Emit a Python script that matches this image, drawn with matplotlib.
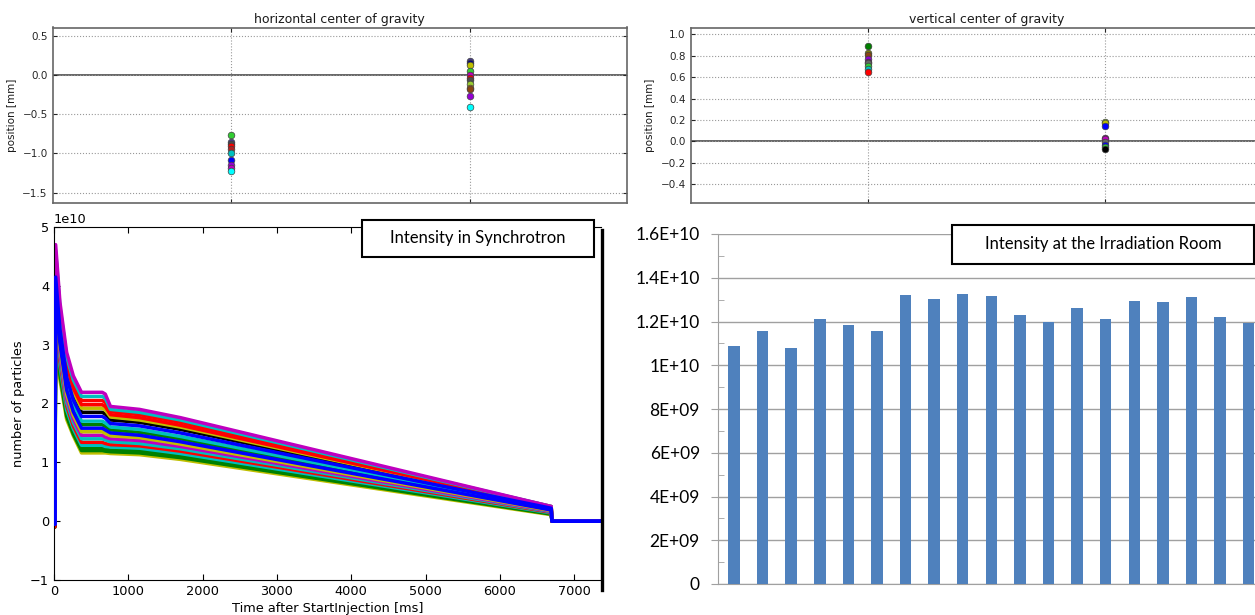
import numpy as np
import matplotlib.pyplot as plt
from matplotlib.patches import Rectangle
from matplotlib.lines import Line2D

W, H = 1255, 615

# ---- top panels: centre of gravity at two monitor positions ----
monitor_pos = [1, 2]

h_pos1 = [-0.76, -0.85, -0.88, -0.91, -0.94, -0.99, -1.09, -1.15, -1.18, -1.22]
h_col1 = ['limegreen', 'darkslateblue', '0.3', 'red', 'firebrick', 'c', 'b', 'darkviolet', 'm', 'cyan']
h_pos2 = [0.18, 0.16, 0.13, 0.06, 0.0, -0.03, -0.06, -0.11, -0.16, -0.18, -0.26, -0.41]
h_col2 = ['darkslateblue', 'navy', 'y', 'limegreen', 'm', 'red', '0.3', 'yellowgreen', 'darkorange',
          'saddlebrown', 'darkviolet', 'cyan']

v_pos1 = [0.89, 0.83, 0.81, 0.77, 0.745, 0.73, 0.70, 0.68, 0.65]
v_col1 = ['g', 'olive', 'saddlebrown', 'darkviolet', 'purple', '0.4', 'limegreen', 'c', 'red']
v_pos2 = [0.18, 0.17, 0.14, 0.035, 0.02, -0.01, -0.03, -0.05, -0.07]
v_col2 = ['yellowgreen', 'y', 'b', 'purple', 'm', '0.4', 'b', 'limegreen', 'k']

# ---- bottom left: intensity in synchrotron (units of 1e10) ----
t_knots = [0, 12, 22, 80, 170, 260, 370, 650, 690, 760, 1150, 1700, 6690, 6700, 7360]
run_colors = ['m', 'c', 'r', 'r', 'y', 'k', 'b', 'c', 'g', 'b', 'y', 'm', 'c', 'r', 'c', 'g', 'g', 'y']
i_start = [-0.05, -0.05, -0.1, -0.05, -0.05, -0.08, -0.05, -0.05, -0.1,
           -0.05, -0.05, -0.05, -0.08, -0.05, -0.05, -0.1, -0.05, -0.08]
i_peak = [4.70, 4.60, 4.55, 4.45, 4.40, 4.30, 4.15, 4.05, 3.95, 3.85, 3.75, 3.65, 3.55, 3.45, 3.35, 3.25, 3.10, 3.00]
i_80 = [3.72, 3.64, 3.57, 3.49, 3.42, 3.34, 3.26, 3.18, 3.10, 3.02, 2.95, 2.87, 2.80, 2.72, 2.64, 2.56, 2.48, 2.40]
i_170 = [2.87, 2.80, 2.73, 2.66, 2.59, 2.52, 2.45, 2.37, 2.30, 2.23, 2.16, 2.09, 2.02, 1.96, 1.89, 1.83, 1.78, 1.73]
i_260 = [2.47, 2.40, 2.33, 2.26, 2.20, 2.13, 2.06, 1.98, 1.92, 1.86, 1.80, 1.74, 1.68, 1.62, 1.57, 1.52, 1.48, 1.45]
i_370 = [2.19, 2.12, 2.05, 1.98, 1.92, 1.85, 1.78, 1.70, 1.64, 1.58, 1.52, 1.46, 1.40, 1.34, 1.29, 1.24, 1.20, 1.16]
i_650 = [2.19, 2.12, 2.05, 1.98, 1.92, 1.85, 1.78, 1.70, 1.64, 1.58, 1.52, 1.46, 1.40, 1.34, 1.29, 1.24, 1.20, 1.16]
i_690 = [2.16, 2.09, 2.02, 1.95, 1.89, 1.82, 1.75, 1.67, 1.61, 1.55, 1.49, 1.43, 1.38, 1.32, 1.27, 1.22, 1.19, 1.16]
i_760 = [1.95, 1.90, 1.86, 1.81, 1.77, 1.72, 1.66, 1.60, 1.55, 1.50, 1.45, 1.40, 1.35, 1.30, 1.26, 1.21, 1.18, 1.15]
i_1150 = [1.90, 1.85, 1.81, 1.76, 1.72, 1.68, 1.62, 1.56, 1.51, 1.46, 1.42, 1.37, 1.32, 1.28, 1.24, 1.20, 1.16, 1.13]
i_1700 = [1.76, 1.72, 1.68, 1.63, 1.60, 1.56, 1.50, 1.44, 1.40, 1.35, 1.31, 1.27, 1.23, 1.19, 1.15, 1.11, 1.08, 1.05]
i_6690 = [0.25, 0.25, 0.25, 0.24, 0.24, 0.24, 0.22, 0.21, 0.20, 0.19, 0.18, 0.17, 0.16, 0.15, 0.14, 0.13, 0.12, 0.11]
i_end = [0.0] * 18

# ---- bottom right: intensity at the irradiation room ----
room_intensity = [1.09e10, 1.155e10, 1.079e10, 1.213e10, 1.186e10, 1.155e10, 1.323e10, 1.304e10, 1.327e10,
                  1.317e10, 1.231e10, 1.198e10, 1.262e10, 1.211e10, 1.294e10, 1.289e10, 1.314e10, 1.219e10,
                  1.195e10]
room_ticks = [0, 2e9, 4e9, 6e9, 8e9, 1e10, 1.2e10, 1.4e10, 1.6e10]
room_labels = ['0', '2E+09', '4E+09', '6E+09', '8E+09', '1E+10', '1.2E+10', '1.4E+10', '1.6E+10']


def px_axes(fig, l, t, r, b):
    return fig.add_axes([l / W, 1 - b / H, (r - l) / W, (b - t) / H])


fig = plt.figure(figsize=(W / 100, H / 100), dpi=100)

# top panels
for ax_box, title, ylim, yt, groups in [
        ((52.5, 27.5, 627, 203.5), 'horizontal center of gravity', (-1.64, 0.61),
         [0.5, 0.0, -0.5, -1.0, -1.5], [(h_pos1, h_col1, 0), (h_pos2, h_col2, 1)]),
        ((690.5, 27.5, 1282, 203.5), 'vertical center of gravity', (-0.58, 1.064),
         [1.0, 0.8, 0.6, 0.4, 0.2, 0.0, -0.2, -0.4], [(v_pos1, v_col1, 0), (v_pos2, v_col2, 1)])]:
    ax = px_axes(fig, *ax_box)
    ax.axhline(0, color='0.35', lw=1.3, zorder=1)
    for vals, cols, k in groups:
        for v, c in zip(vals, cols):
            ax.plot(monitor_pos[k], v, 'o', color=c, ms=4.8, mec='0.25', mew=0.5, zorder=3)
    ax.set_xlim(0.25, 2.75 if 'vertical' in title else 2.66)
    ax.set_ylim(*ylim)
    ax.set_yticks(yt)
    ax.set_xticks(monitor_pos)
    ax.set_xticklabels([])
    ax.grid(True, ls=':', color='0.6', lw=0.8)
    ax.tick_params(direction='in', length=3, labelsize=7.5, colors='0.15', top=True, right=True)
    ax.set_title(title, fontsize=9, color='0.1', pad=3)
    ax.set_ylabel('position [mm]', fontsize=7.5, color='0.1')
    for s in ax.spines.values():
        s.set_color('0.4')
        s.set_linewidth(1.2)

# bottom left
ax = px_axes(fig, 54, 227, 601, 580)
rows = np.column_stack([i_start, i_start, i_peak, i_80, i_170, i_260, i_370, i_650, i_690,
                        i_760, i_1150, i_1700, i_6690, i_end, i_end])
# lowest runs first so the upper ones sit on top; blue runs drawn last
for row, c in list(zip(rows, run_colors))[::-1]:
    ax.plot(t_knots, row * 1e10, color=c, lw=2.5, zorder=3 if c == 'b' else 2)
ax.set_xlim(0, 7360)
ax.set_ylim(-1e10, 5e10)
ax.set_xticks(range(0, 8000, 1000))
ax.tick_params(direction='in', length=4, labelsize=9.3, top=True, right=False)
ax.yaxis.get_offset_text().set_fontsize(9.3)
ax.set_xlabel('Time after StartInjection [ms]', fontsize=9.3, labelpad=3)
ax.set_ylabel('number of particles', fontsize=9.3)
ax.spines['right'].set_visible(False)
fig.add_artist(Line2D([601.5 / W] * 2, [1 - 230 / H, 1 - 590 / H], color='k', lw=2.4))

# bottom right
ax = px_axes(fig, 718, 234, 1255, 584)
ax.bar(range(len(room_intensity)), room_intensity, width=0.4, color='#4F81BD', zorder=3)
ax.set_xlim(-0.56, 18.22)
ax.set_ylim(0, 1.6e10)
ax.set_yticks(room_ticks, room_labels, fontfamily='Lato', fontsize=12.5)
ax.set_yticks(np.arange(1e9, 1.6e10, 2e9), minor=True)
ax.set_xticks([])
ax.grid(True, axis='y', color='#a0a0a0', lw=1, zorder=0)
ax.tick_params(axis='y', which='major', direction='out', length=5, color='#a0a0a0', pad=8)
ax.tick_params(axis='y', which='minor', direction='in', length=4, color='#a0a0a0')
for s in ['top', 'right']:
    ax.spines[s].set_visible(False)
for s in ['left', 'bottom']:
    ax.spines[s].set_color('#a0a0a0')

# annotation boxes
for (l, t, r, b), txt in [((362, 220, 594, 257), 'Intensity in Synchrotron'),
                          ((952, 225, 1254, 264), 'Intensity at the Irradiation Room')]:
    fig.add_artist(Rectangle((l / W, 1 - b / H), (r - l) / W, (b - t) / H, facecolor='white',
                             edgecolor='k', lw=1.5, zorder=5, transform=fig.transFigure))
    fig.text((l + r) / 2 / W, 1 - (t + b) / 2 / H, txt, ha='center', va='center',
             fontsize=12, fontfamily='Lato', zorder=6)

fig.savefig('out.png', dpi=100)
